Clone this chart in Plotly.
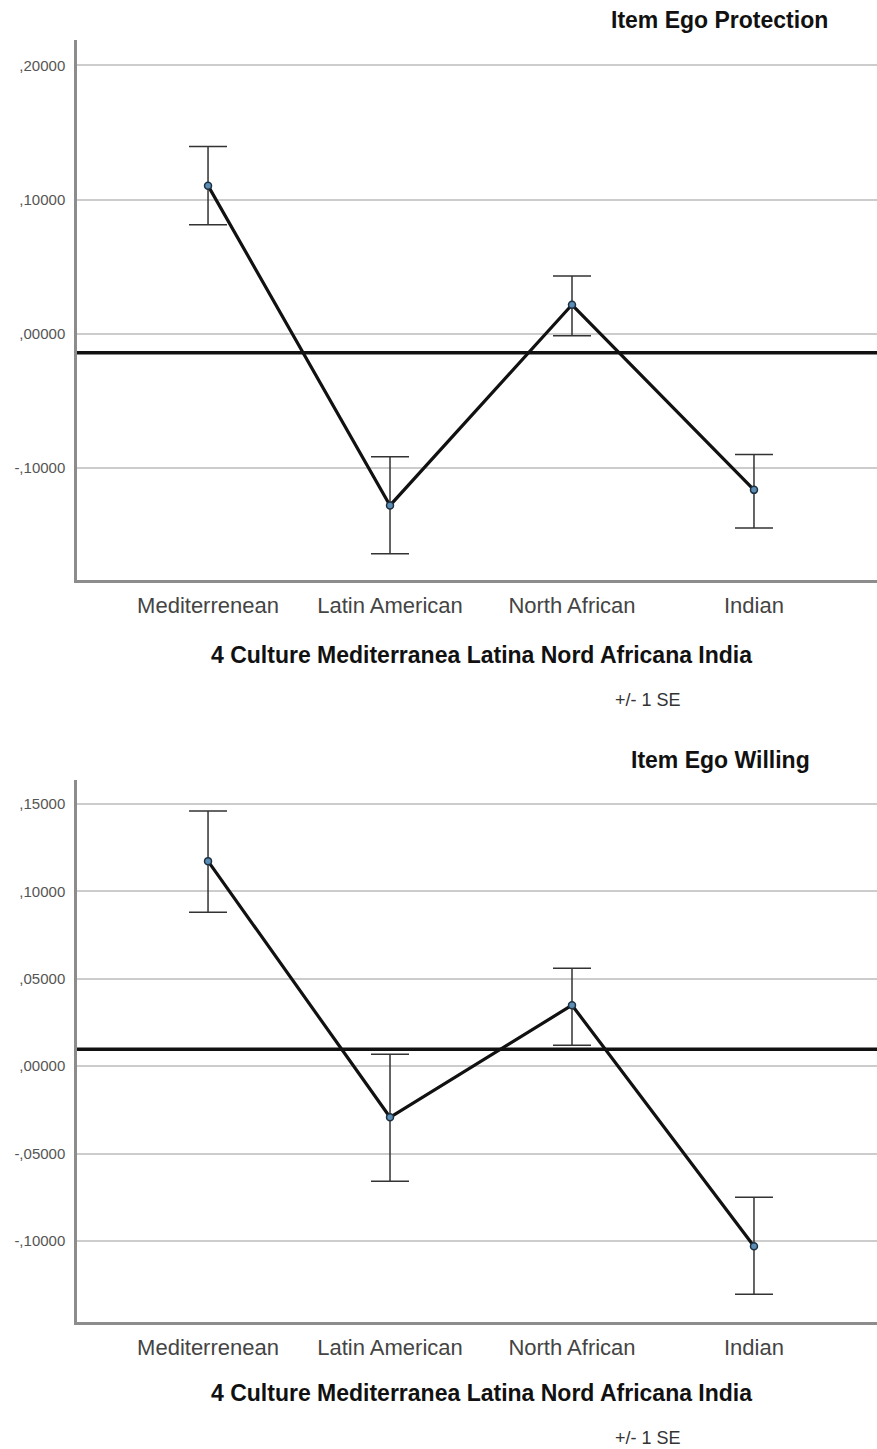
import plotly.graph_objects as go

categories = ["Mediterrenean", "Latin American", "North African", "Indian"]

# Top chart: Item Ego Protection
prot_mean = [0.1104, -0.1280, 0.0216, -0.1164]
prot_upper = [0.1396, -0.0918, 0.0430, -0.0900]
prot_lower = [0.0813, -0.1640, -0.0015, -0.1448]
prot_ref = -0.0142
prot_ticks = [0.20, 0.10, 0.00, -0.10]
prot_ticktext = [",20000", ",10000", ",00000", "-,10000"]

# Bottom chart: Item Ego Willing
will_mean = [0.1173, -0.0292, 0.0349, -0.1030]
will_upper = [0.1459, 0.0069, 0.0561, -0.0749]
will_lower = [0.0881, -0.0658, 0.0120, -0.1304]
will_ref = 0.0097
will_ticks = [0.15, 0.10, 0.05, 0.00, -0.05, -0.10]
will_ticktext = [",15000", ",10000", ",05000", ",00000", "-,05000", "-,10000"]

W, H = 877, 1449
FONT = "Liberation Sans, Arial, sans-serif"

fig = go.Figure()


def add_series(mean, upper, lower, xa, ya):
    plus = [u - m for u, m in zip(upper, mean)]
    minus = [m - l for m, l in zip(mean, lower)]
    fig.add_trace(go.Scatter(
        x=categories, y=mean, mode="lines+markers",
        xaxis=xa, yaxis=ya,
        line=dict(color="#111111", width=3.2),
        marker=dict(size=7, color="#5b8db5", line=dict(color="#1f3140", width=1.5)),
        error_y=dict(type="data", array=plus, arrayminus=minus, symmetric=False,
                     color="#333333", thickness=1.5, width=19),
        showlegend=False, hoverinfo="skip",
    ))


add_series(prot_mean, prot_upper, prot_lower, "x", "y")
add_series(will_mean, will_upper, will_lower, "x2", "y2")

xdom = [77 / W, 1.0]
top_dom = [1 - 580 / H, 1 - 40 / H]
bot_dom = [1 - 1322 / H, 1 - 780 / H]

xcommon = dict(
    type="category", range=[-0.72, 3.676], showgrid=False, zeroline=False,
    showline=True, linecolor="#8c8c8c", linewidth=2.5, ticks="",
    ticklabelstandoff=4,
    tickfont=dict(family=FONT, size=22, color="#444444"),
    domain=xdom,
)
ycommon = dict(
    showgrid=True, gridcolor="#cccccc", gridwidth=1.5, zeroline=False,
    showline=True, linecolor="#8c8c8c", linewidth=2.5, ticks="",
    ticklabelstandoff=6,
    tickfont=dict(family=FONT, size=15, color="#555555"),
)

fig.update_layout(
    width=W, height=H, margin=dict(l=0, r=0, t=0, b=0),
    paper_bgcolor="white", plot_bgcolor="white",
    xaxis=dict(**xcommon, anchor="y"),
    xaxis2=dict(**xcommon, anchor="y2"),
    yaxis=dict(**ycommon, domain=top_dom, range=[-0.1836, 0.219],
               tickvals=prot_ticks, ticktext=prot_ticktext, anchor="x"),
    yaxis2=dict(**ycommon, domain=bot_dom, range=[-0.1463, 0.1637],
                tickvals=will_ticks, ticktext=will_ticktext, anchor="x2"),
)

# Reference lines
fig.add_shape(type="line", xref="x domain", yref="y", x0=0, x1=1, y0=prot_ref, y1=prot_ref,
              line=dict(color="#111111", width=3.5), layer="below")
fig.add_shape(type="line", xref="x2 domain", yref="y2", x0=0, x1=1, y0=will_ref, y1=will_ref,
              line=dict(color="#111111", width=3.5), layer="below")


def ann(text, xpx, ypx, size, bold=False, color="#111111", xanchor="center"):
    fig.add_annotation(
        text=f"<b>{text}</b>" if bold else text,
        x=xpx / W, y=1 - ypx / H, xref="paper", yref="paper",
        xanchor=xanchor, yanchor="middle", showarrow=False,
        font=dict(family=FONT, size=size, color=color),
    )


ann("Item Ego Protection", 830, 20, 23, bold=True, xanchor="right")
ann("4 Culture Mediterranea Latina Nord Africana India", 481, 655, 23, bold=True)
ann("+/- 1 SE", 648, 700, 18, color="#333333")

ann("Item Ego Willing", 812, 760, 23, bold=True, xanchor="right")
ann("4 Culture Mediterranea Latina Nord Africana India", 481, 1393, 23, bold=True)
ann("+/- 1 SE", 648, 1438, 18, color="#333333")

fig.write_html(
    "out.html",
    config={"displayModeBar": False},
    post_script="document.body.style.margin='0';document.body.style.overflow='hidden';",
)
